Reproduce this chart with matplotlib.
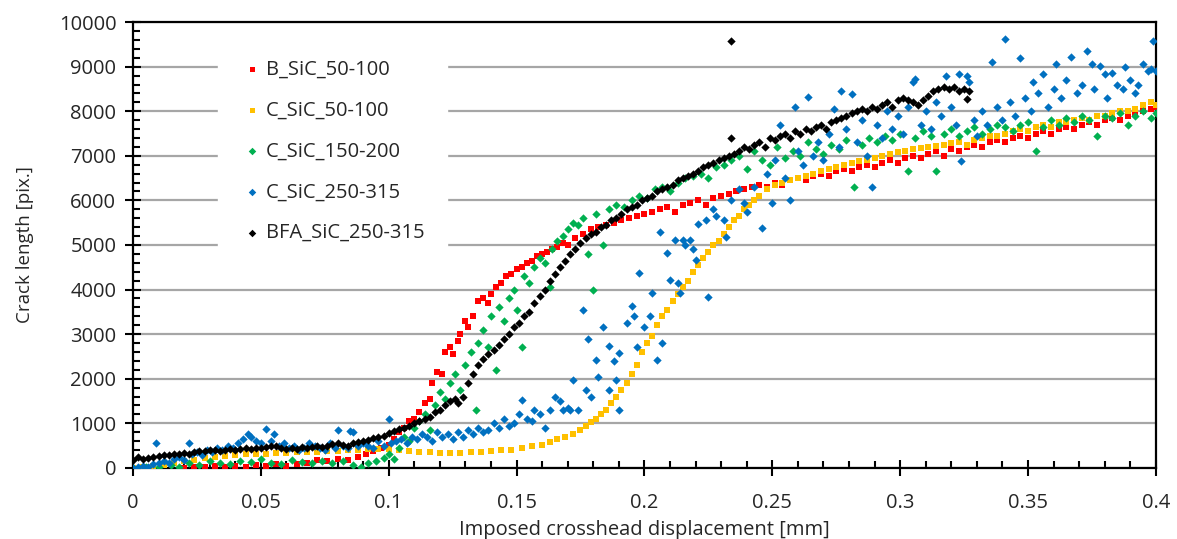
import matplotlib
matplotlib.use("Agg")
import matplotlib.pyplot as plt
from matplotlib.ticker import MultipleLocator, FuncFormatter

plt.rcParams["font.family"] = ["Open Sans", "DejaVu Sans"]

# ── Data ──────────────────────────────────────────────────────────────────────
labels = ["B_SiC_50-100", "C_SiC_50-100", "C_SiC_150-200", "C_SiC_250-315", "BFA_SiC_250-315"]
colors = ["#ff0000", "#ffc000", "#00b050", "#0070c0", "#000000"]
markers = ["s", "s", "D", "D", "D"]
sizes = [16, 16, 18, 18, 18]

b_sic_50_x = [0.020, 0.024, 0.028, 0.032, 0.036, 0.040, 0.044, 0.048, 0.052, 0.056, 0.060, 0.064, 0.068,
              0.072, 0.076, 0.080, 0.084, 0.088, 0.091, 0.094, 0.097, 0.100, 0.102, 0.104, 0.106, 0.108,
              0.110, 0.112, 0.114, 0.116, 0.117, 0.119, 0.121, 0.122, 0.124, 0.125, 0.127, 0.128, 0.130,
              0.131, 0.133, 0.135, 0.137, 0.139, 0.140, 0.142, 0.144, 0.146, 0.148, 0.150, 0.152, 0.154,
              0.156, 0.158, 0.160, 0.162, 0.164, 0.166, 0.168, 0.170, 0.173, 0.176, 0.179, 0.182, 0.185,
              0.188, 0.191, 0.194, 0.197, 0.200, 0.203, 0.206, 0.209, 0.212, 0.215, 0.218, 0.221, 0.224,
              0.227, 0.230, 0.233, 0.236, 0.239, 0.242, 0.245, 0.248, 0.251, 0.254, 0.257, 0.260, 0.263,
              0.266, 0.269, 0.272, 0.275, 0.278, 0.281, 0.284, 0.287, 0.290, 0.293, 0.296, 0.299, 0.302,
              0.305, 0.308, 0.311, 0.314, 0.317, 0.320, 0.323, 0.326, 0.329, 0.332, 0.335, 0.338, 0.341,
              0.344, 0.347, 0.350, 0.353, 0.356, 0.359, 0.362, 0.365, 0.368, 0.371, 0.374, 0.377, 0.380,
              0.383, 0.386, 0.389, 0.392, 0.395, 0.398, 0.400]
b_sic_50_y = [0, 20, 10, 40, 30, 50, 20, 60, 40, 80, 50, 90, 120,
              180, 150, 200, 180, 250, 300, 380, 450, 520, 650, 800, 900, 1050,
              1100, 1250, 1450, 1550, 1900, 2150, 2100, 2600, 2700, 2550, 2850, 3000, 3300,
              3150, 3400, 3750, 3800, 3700, 3900, 4050, 4150, 4300, 4350, 4450, 4500, 4600,
              4650, 4750, 4800, 4850, 4900, 4950, 5050, 5000, 5150, 5250, 5350, 5400, 5450,
              5500, 5550, 5600, 5650, 5700, 5750, 5800, 5850, 5750, 5900, 5950, 6000, 5900,
              6050, 6100, 6150, 6200, 6250, 6300, 6350, 6300, 6400, 6350, 6450, 6500, 6450,
              6550, 6600, 6550, 6650, 6700, 6650, 6750, 6800, 6750, 6850, 6900, 6850, 6950,
              7000, 6950, 7050, 7100, 7000, 7150, 7100, 7200, 7250, 7200, 7300, 7350, 7300,
              7400, 7450, 7400, 7500, 7550, 7500, 7600, 7650, 7600, 7700, 7750, 7700, 7800,
              7850, 7800, 7900, 7950, 8000, 8050, 8100]

c_sic_50_x = [0.000, 0.004, 0.008, 0.012, 0.016, 0.020, 0.024, 0.028, 0.032, 0.036, 0.040, 0.044, 0.048,
              0.052, 0.056, 0.060, 0.064, 0.068, 0.072, 0.076, 0.080, 0.084, 0.088, 0.092, 0.096, 0.100,
              0.104, 0.108, 0.112, 0.116, 0.120, 0.124, 0.128, 0.132, 0.136, 0.140, 0.144, 0.148, 0.152,
              0.156, 0.160, 0.163, 0.166, 0.169, 0.172, 0.175, 0.177, 0.179, 0.181, 0.183, 0.185, 0.187,
              0.189, 0.191, 0.193, 0.195, 0.197, 0.199, 0.201, 0.203, 0.205, 0.207, 0.209, 0.211, 0.213,
              0.215, 0.217, 0.219, 0.221, 0.223, 0.225, 0.227, 0.229, 0.231, 0.233, 0.235, 0.237, 0.239,
              0.241, 0.243, 0.245, 0.248, 0.251, 0.254, 0.257, 0.260, 0.263, 0.266, 0.269, 0.272, 0.275,
              0.278, 0.281, 0.284, 0.287, 0.290, 0.293, 0.296, 0.299, 0.302, 0.305, 0.308, 0.311, 0.314,
              0.317, 0.320, 0.323, 0.326, 0.329, 0.332, 0.335, 0.338, 0.341, 0.344, 0.347, 0.350, 0.353,
              0.356, 0.359, 0.362, 0.365, 0.368, 0.371, 0.374, 0.377, 0.380, 0.383, 0.386, 0.389, 0.392,
              0.395, 0.398, 0.400]
c_sic_50_y = [0, 20, 40, 60, 100, 150, 180, 220, 250, 270, 290, 300, 310,
              320, 330, 340, 350, 360, 360, 370, 380, 390, 400, 420, 430, 420,
              400, 380, 360, 350, 340, 340, 340, 350, 360, 370, 390, 410, 450,
              480, 520, 580, 640, 700, 770, 850, 950, 1020, 1100, 1200, 1300, 1450,
              1600, 1750, 1900, 2100, 2300, 2600, 2800, 2950, 3200, 3400, 3550, 3750, 3900,
              4050, 4200, 4400, 4550, 4700, 4850, 5000, 5100, 5250, 5400, 5550, 5650, 5800,
              5900, 6000, 6100, 6250, 6350, 6400, 6450, 6500, 6550, 6600, 6650, 6700, 6750,
              6800, 6850, 6880, 6900, 6950, 7000, 7050, 7080, 7100, 7150, 7180, 7200, 7230,
              7250, 7280, 7300, 7250, 7350, 7400, 7450, 7450, 7500, 7550, 7600, 7550, 7650,
              7700, 7650, 7750, 7750, 7800, 7850, 7800, 7900, 7900, 7950, 8000, 8000, 8050,
              8150, 8200, 8150]

c_sic_150_x = [0.000, 0.005, 0.010, 0.015, 0.018, 0.022, 0.026, 0.030, 0.034, 0.038, 0.042, 0.046, 0.050,
               0.054, 0.058, 0.062, 0.066, 0.070, 0.074, 0.078, 0.082, 0.086, 0.089, 0.092, 0.095, 0.098,
               0.100, 0.102, 0.104, 0.106, 0.108, 0.110, 0.112, 0.114, 0.116, 0.118, 0.120, 0.122, 0.124,
               0.126, 0.128, 0.130, 0.132, 0.134, 0.135, 0.137, 0.139, 0.140, 0.142, 0.143, 0.145, 0.147,
               0.149, 0.150, 0.152, 0.153, 0.155, 0.157, 0.159, 0.161, 0.163, 0.164, 0.166, 0.168, 0.170,
               0.172, 0.174, 0.176, 0.178, 0.180, 0.181, 0.184, 0.186, 0.189, 0.192, 0.195, 0.198, 0.201,
               0.204, 0.207, 0.210, 0.213, 0.216, 0.219, 0.222, 0.225, 0.228, 0.231, 0.234, 0.237, 0.240,
               0.243, 0.246, 0.249, 0.252, 0.255, 0.258, 0.261, 0.264, 0.267, 0.270, 0.273, 0.276, 0.279,
               0.282, 0.285, 0.288, 0.291, 0.294, 0.297, 0.300, 0.303, 0.306, 0.309, 0.312, 0.314, 0.317,
               0.320, 0.323, 0.326, 0.329, 0.332, 0.335, 0.338, 0.341, 0.344, 0.347, 0.350, 0.353, 0.356,
               0.359, 0.362, 0.365, 0.368, 0.371, 0.374, 0.377, 0.380, 0.383, 0.386, 0.389, 0.392, 0.395,
               0.398, 0.400]
c_sic_150_y = [0, 30, 10, 60, 20, 100, 60, 150, 120, 80, 160, 130, 200,
               120, 90, 180, 130, 100, 160, 110, 150, 60, 30, 100, 150, 220,
               300, 200, 450, 700, 600, 900, 1050, 1200, 850, 1400, 1700, 1550, 1900,
               2100, 1750, 2300, 2600, 1300, 2800, 3100, 2700, 3400, 2200, 3600, 3300, 3800,
               4000, 3550, 2700, 4300, 4150, 4500, 4700, 4600, 4050, 4900, 5100, 5200, 5350,
               5500, 5450, 5600, 4800, 4000, 5700, 5000, 5800, 5900, 5850, 6000, 6100, 6050,
               6250, 6300, 6200, 6400, 6500, 6550, 6600, 6500, 6750, 6800, 6900, 7000, 6700,
               7100, 6900, 6800, 7200, 6950, 7100, 7000, 7300, 7150, 7050, 7250, 7150, 7350,
               6300, 7250, 7400, 7300, 7450, 7350, 7500, 6650, 7400, 7550, 7450, 6650, 7500,
               7600, 7450, 7550, 7650, 7500, 7600, 7700, 7650, 7550, 7700, 7750, 7100, 7650,
               7800, 7700, 7850, 7750, 7900, 7800, 7450, 7900, 7850, 7950, 7700, 7900, 8000,
               7850, 7950]

c_sic_250_x = [0.000, 0.002, 0.004, 0.006, 0.008, 0.009, 0.010, 0.012, 0.014, 0.016, 0.018, 0.020, 0.022,
               0.023, 0.025, 0.027, 0.029, 0.031, 0.033, 0.035, 0.037, 0.039, 0.041, 0.043, 0.045, 0.046,
               0.048, 0.050, 0.052, 0.054, 0.055, 0.057, 0.059, 0.061, 0.063, 0.065, 0.067, 0.069, 0.071,
               0.073, 0.075, 0.077, 0.079, 0.080, 0.082, 0.084, 0.085, 0.086, 0.088, 0.090, 0.092, 0.094,
               0.096, 0.098, 0.100, 0.101, 0.103, 0.105, 0.107, 0.109, 0.111, 0.113, 0.115, 0.117, 0.119,
               0.121, 0.123, 0.125, 0.127, 0.129, 0.131, 0.133, 0.135, 0.137, 0.139, 0.141, 0.143, 0.145,
               0.147, 0.149, 0.151, 0.152, 0.154, 0.156, 0.157, 0.159, 0.161, 0.163, 0.165, 0.167, 0.168,
               0.170, 0.171, 0.172, 0.174, 0.176, 0.177, 0.178, 0.179, 0.181, 0.182, 0.184, 0.186, 0.186,
               0.188, 0.189, 0.190, 0.190, 0.193, 0.195, 0.196, 0.197, 0.198, 0.200, 0.202, 0.203, 0.205,
               0.206, 0.207, 0.209, 0.210, 0.212, 0.213, 0.214, 0.215, 0.216, 0.218, 0.219, 0.220, 0.221,
               0.224, 0.225, 0.227, 0.228, 0.231, 0.232, 0.234, 0.237, 0.239, 0.240, 0.243, 0.246, 0.248,
               0.250, 0.251, 0.253, 0.255, 0.257, 0.259, 0.260, 0.262, 0.264, 0.266, 0.268, 0.270, 0.272,
               0.274, 0.276, 0.277, 0.279, 0.281, 0.283, 0.285, 0.287, 0.289, 0.291, 0.293, 0.295, 0.297,
               0.299, 0.301, 0.303, 0.305, 0.306, 0.308, 0.310, 0.312, 0.314, 0.316, 0.318, 0.320, 0.322,
               0.323, 0.324, 0.326, 0.327, 0.329, 0.330, 0.332, 0.334, 0.336, 0.338, 0.340, 0.341, 0.343,
               0.345, 0.347, 0.349, 0.351, 0.352, 0.354, 0.356, 0.358, 0.360, 0.361, 0.363, 0.365, 0.367,
               0.369, 0.371, 0.373, 0.375, 0.376, 0.378, 0.380, 0.381, 0.383, 0.385, 0.387, 0.388, 0.390,
               0.392, 0.393, 0.395, 0.397, 0.398, 0.399, 0.400]
c_sic_250_y = [0, 30, 50, 20, 80, 550, 100, 150, 120, 200, 250, 180, 550,
               300, 350, 280, 400, 350, 450, 400, 500, 450, 550, 650, 750, 700,
               600, 550, 880, 600, 750, 500, 550, 450, 500, 400, 450, 550, 500,
               450, 400, 550, 450, 850, 500, 450, 820, 800, 500, 550, 500, 450,
               600, 500, 1100, 550, 600, 650, 550, 700, 650, 750, 700, 600, 800,
               700, 750, 650, 800, 700, 850, 750, 900, 800, 850, 1000, 900, 1100,
               950, 1000, 1200, 1530, 1100, 1050, 1300, 1200, 900, 1300, 1600, 1500, 1300,
               1350, 1300, 1980, 1300, 3550, 1750, 2880, 1600, 2430, 2040, 3170, 2740, 1750,
               2400, 1980, 2580, 1300, 3260, 3620, 3400, 2700, 4380, 3170, 3400, 3930, 2430,
               5280, 2810, 4830, 4220, 5120, 4150, 3930, 5120, 5000, 5120, 4900, 4670, 5460,
               5570, 3840, 5800, 5650, 5570, 5190, 6000, 6250, 5950, 5750, 6310, 5390, 6600,
               5950, 6900, 7700, 6500, 6000, 8090, 7100, 6800, 8310, 7000, 7300, 6900, 7500,
               8050, 7200, 8450, 7600, 8380, 7300, 7800, 7000, 6310, 7700, 7400, 8000, 7600,
               7900, 7500, 8100, 8650, 8720, 7700, 8000, 7600, 8200, 7900, 8790, 8100, 7700,
               8830, 6880, 8800, 8650, 7800, 7440, 8000, 7700, 9100, 8100, 7800, 9620, 8200,
               7900, 9200, 8300, 8000, 8650, 8400, 8830, 8100, 8500, 9050, 8300, 8700, 9210,
               8400, 8600, 9350, 9050, 8500, 9020, 8830, 8300, 8860, 8600, 8500, 8990, 8700,
               8400, 8600, 9050, 8900, 8950, 9570, 8900]

bfa_sic_250_x = [0.000, 0.002, 0.004, 0.006, 0.008, 0.010, 0.012, 0.014, 0.016, 0.018, 0.020, 0.022, 0.024,
                 0.026, 0.028, 0.030, 0.032, 0.034, 0.036, 0.038, 0.040, 0.042, 0.044, 0.046, 0.048, 0.050,
                 0.052, 0.054, 0.056, 0.058, 0.060, 0.062, 0.064, 0.066, 0.068, 0.070, 0.072, 0.074, 0.076,
                 0.078, 0.080, 0.082, 0.084, 0.086, 0.088, 0.090, 0.092, 0.094, 0.096, 0.098, 0.100, 0.102,
                 0.104, 0.106, 0.108, 0.110, 0.112, 0.114, 0.116, 0.118, 0.120, 0.122, 0.124, 0.126, 0.127,
                 0.129, 0.131, 0.133, 0.135, 0.137, 0.139, 0.141, 0.143, 0.145, 0.147, 0.149, 0.151, 0.153,
                 0.155, 0.157, 0.159, 0.161, 0.163, 0.165, 0.167, 0.169, 0.171, 0.173, 0.175, 0.177, 0.179,
                 0.181, 0.183, 0.185, 0.187, 0.189, 0.191, 0.193, 0.195, 0.197, 0.199, 0.201, 0.203, 0.205,
                 0.207, 0.209, 0.211, 0.213, 0.215, 0.217, 0.219, 0.221, 0.223, 0.225, 0.227, 0.229, 0.231,
                 0.233, 0.234, 0.234, 0.235, 0.237, 0.239, 0.241, 0.243, 0.245, 0.247, 0.249, 0.251, 0.253,
                 0.255, 0.257, 0.259, 0.261, 0.263, 0.265, 0.267, 0.269, 0.271, 0.273, 0.275, 0.277, 0.279,
                 0.281, 0.283, 0.285, 0.287, 0.289, 0.291, 0.293, 0.295, 0.297, 0.299, 0.301, 0.303, 0.305,
                 0.307, 0.309, 0.311, 0.313, 0.315, 0.317, 0.319, 0.321, 0.323, 0.325, 0.326, 0.327]
bfa_sic_250_y = [180, 250, 200, 220, 240, 260, 290, 280, 320, 310, 330, 320, 360,
                 380, 370, 390, 400, 380, 410, 420, 410, 430, 440, 430, 450, 440,
                 460, 500, 480, 450, 430, 440, 420, 460, 440, 470, 490, 470, 500,
                 540, 560, 520, 500, 550, 580, 600, 620, 660, 700, 720, 780, 830,
                 880, 900, 950, 1000, 1050, 1100, 1150, 1250, 1300, 1400, 1500, 1550, 1450,
                 1600, 1900, 2100, 2300, 2450, 2550, 2650, 2750, 2900, 3000, 3150, 3250, 3400,
                 3500, 3700, 3850, 4000, 4200, 4350, 4500, 4650, 4800, 4900, 5050, 5150, 5250,
                 5300, 5400, 5450, 5550, 5600, 5700, 5800, 5850, 5900, 6000, 6050, 6100, 6200,
                 6250, 6300, 6350, 6450, 6500, 6550, 6600, 6650, 6750, 6800, 6850, 6900, 6950,
                 7000, 9570, 7410, 7050, 7100, 7200, 7150, 7250, 7300, 7200, 7400, 7350, 7450,
                 7500, 7400, 7550, 7500, 7600, 7550, 7650, 7700, 7600, 7750, 7800, 7850, 7900,
                 7950, 8000, 8050, 8000, 8100, 8050, 8150, 8200, 8100, 8250, 8300, 8250, 8200,
                 8150, 8250, 8350, 8450, 8500, 8550, 8500, 8550, 8450, 8500, 8270, 8450]

series_x = [b_sic_50_x, c_sic_50_x, c_sic_150_x, c_sic_250_x, bfa_sic_250_x]
series_y = [b_sic_50_y, c_sic_50_y, c_sic_150_y, c_sic_250_y, bfa_sic_250_y]

# ── Figure ────────────────────────────────────────────────────────────────────
fig = plt.figure(figsize=(11.77, 5.39), dpi=100)
ax = fig.add_axes([0.113, 0.132, 0.869, 0.827])

for xs, ys, lab, col, mk, sz in zip(series_x, series_y, labels, colors, markers, sizes):
    ax.scatter(xs, ys, s=sz, marker=mk, color=col, linewidths=0, label=lab, zorder=3)

ax.set_xlim(0, 0.4)
ax.set_ylim(0, 10000)
ax.xaxis.set_major_locator(MultipleLocator(0.05))
ax.xaxis.set_minor_locator(MultipleLocator(0.01))
ax.yaxis.set_major_locator(MultipleLocator(1000))
ax.yaxis.set_minor_locator(MultipleLocator(200))
ax.xaxis.set_major_formatter(FuncFormatter(lambda v, p: f"{v:g}"))

ax.tick_params(which="major", direction="inout", length=12, width=1.5, labelsize=14.5,
               colors="black", labelcolor="#262626", pad=6)
ax.tick_params(axis="x", which="major", pad=12)
ax.tick_params(which="minor", direction="in", length=5, width=1.5)
for sp in ax.spines.values():
    sp.set_linewidth(1.6)
    sp.set_color("black")

ax.grid(True, axis="y", which="major", color="#a6a6a6", linewidth=1.6)
ax.set_axisbelow(True)

ax.set_xlabel("Imposed crosshead displacement [mm]", fontsize=14.5, color="#262626", labelpad=5)
ax.set_ylabel("Crack length [pix.]", fontsize=13.5, color="#262626", labelpad=18)

# legend box: left edge ~x=218px, marker ~252px, text ~265px
leg = ax.legend(loc="upper left", bbox_to_anchor=(0.083, 0.966), frameon=True, fancybox=False,
                facecolor="white", edgecolor="white", framealpha=1, fontsize=14.5,
                handlelength=1.2, handletextpad=0.1, labelspacing=1.04, borderpad=1.1,
                borderaxespad=0, scatterpoints=1, markerscale=0.9)
for t in leg.get_texts():
    t.set_color("#262626")
leg.set_zorder(5)

fig.savefig("out.png", dpi=100)
